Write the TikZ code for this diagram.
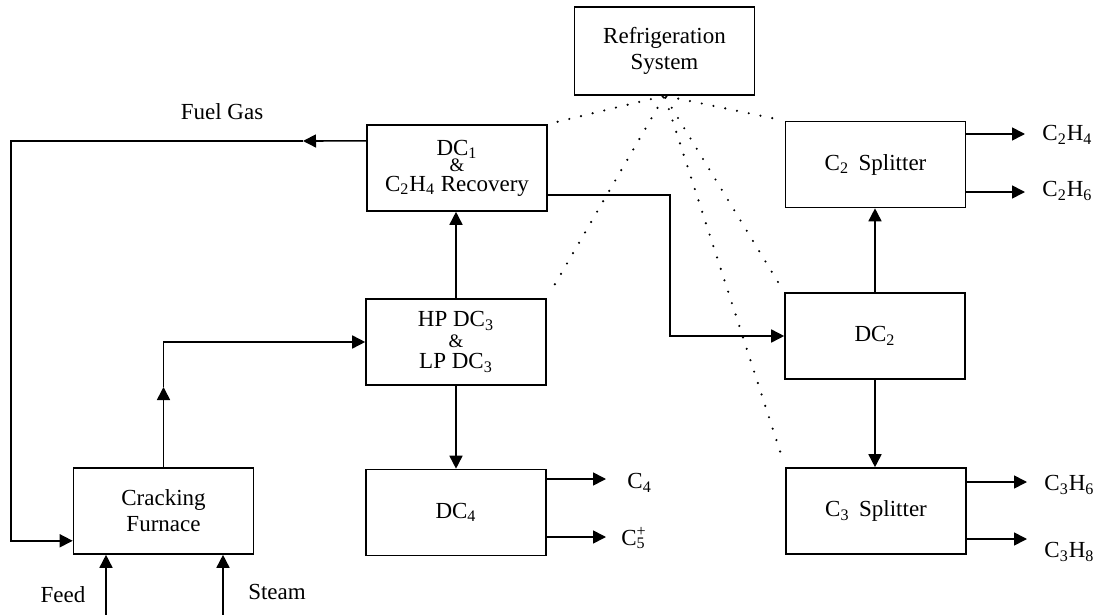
\documentclass[tikz,border=0pt]{standalone}
\usepackage{fontspec}
\setmainfont{Liberation Serif}
\usetikzlibrary{arrows.meta,calc}
\newcommand\dfont{\fontsize{11.5pt}{13pt}\selectfont}
\newcommand\amp{{\fontsize{9.5pt}{13pt}\selectfont\&}}
\begin{document}
\begin{tikzpicture}[x=0.5pt,y=-0.5pt,
  box/.style={draw,line width=0.8pt,minimum width=90pt,minimum height=43pt,inner sep=0pt,align=center,font=\dfont},
  lbl/.style={inner sep=0pt,font=\dfont},
  ln/.style={line width=0.8pt},
  arr/.style={line width=0.8pt,-{Triangle[length=6.5pt,width=6.5pt]}},
  dots/.style={line width=1.2pt,line cap=round,dash pattern=on 0pt off 6pt,shorten >=5pt,shorten <=1pt}]
\useasboundingbox (0,0) rectangle (1097,615);
% boxes
\node[box,minimum height=44pt] (refr) at (664.5,51) {Refrigeration\\System};
\node[box] (dc1) at (457,168) {DC\textsubscript{1}\\[-5pt]\amp\\[-3pt]C\textsubscript{2}H\textsubscript{4} Recovery};
\node[box] (c2s) at (875.5,164.5) {C\textsubscript{2}\,\ Splitter};
\node[box] (hp) at (456,342) {HP DC\textsubscript{3}\\[-2.5pt]\amp\\[-2.5pt]LP DC\textsubscript{3}};
\node[box] (dc2) at (875,336) {DC\textsubscript{2}};
\node[box] (furn) at (163.5,511) {Cracking\\Furnace};
\node[box] (dc4) at (456,512.5) {DC\textsubscript{4}};
\node[box] (c3s) at (876,511) {C\textsubscript{3}\,\ Splitter};
% labels
\node[lbl] (fuel) at (222,112) {Fuel Gas};
\node[lbl] (feed) at (63,595) {Feed};
\node[lbl] (steam) at (277,592) {Steam};
\node[lbl,anchor=west] (lc2h4) at (1042,135) {C\textsubscript{2}H\textsubscript{4}};
\node[lbl,anchor=west] (lc2h6) at (1042,191) {C\textsubscript{2}H\textsubscript{6}};
\node[lbl,anchor=west] (lc4) at (627,483) {C\textsubscript{4}};
\node[lbl,anchor=west] (lc5) at (621,538) {C\rlap{\textsubscript{5}}\textsuperscript{+}};
\node[lbl,anchor=west] (lc3h6) at (1044,485) {C\textsubscript{3}H\textsubscript{6}};
\node[lbl,anchor=west] (lc3h8) at (1044,552) {C\textsubscript{3}H\textsubscript{8}};
% coordinates
\coordinate (fg) at ($(dc1.north west)!0.19!(dc1.south west)$);
\coordinate (fgm) at (303,141);
\coordinate (lpx) at (11,0);
\coordinate (fin) at ($(furn.north west)!0.84!(furn.south west)$);
\coordinate (d1e) at ($(dc1.north east)!0.81!(dc1.south east)$);
\coordinate (bx) at (670,0);
\coordinate (fm) at (163.5,387);
\coordinate (e1) at (1025,134);
\coordinate (e2) at (1025,192);
\coordinate (e3) at (606,479);
\coordinate (e4) at (606,537);
\coordinate (e5) at (1027,482);
\coordinate (e6) at (1027,539);
\coordinate (fb) at (106,615);
\coordinate (sb) at (223,615);
% fuel gas recycle
\draw[arr] (fg) -- (fgm);
\draw[arr] (fgm) -- (fgm -| lpx) |- (fin);
% main flows
\draw[arr] (furn.north) -- (furn.north |- fm);
\draw[arr] (furn.north |- fm) |- (hp.west);
\draw[arr] (hp.north) -- (hp.north |- dc1.south);
\draw[arr] (hp.south) -- (hp.south |- dc4.north);
\draw[arr] (d1e) -- (d1e -| bx) |- (dc2.west);
\draw[arr] (dc2.north) -- (dc2.north |- c2s.south);
\draw[arr] (dc2.south) -- (dc2.south |- c3s.north);
\draw[arr] (fb) -- (fb |- furn.south);
\draw[arr] (sb) -- (sb |- furn.south);
% products
\draw[arr] (c2s.east |- e1) -- (e1);
\draw[arr] (c2s.east |- e2) -- (e2);
\draw[arr] (dc4.east |- e3) -- (e3);
\draw[arr] (dc4.east |- e4) -- (e4);
\draw[arr] (c3s.east |- e5) -- (e5);
\draw[arr] (c3s.east |- e6) -- (e6);
% refrigeration links
\draw[dots] (refr.south) -- (dc1.north east);
\draw[dots] (refr.south) -- (c2s.north west);
\draw[dots] (refr.south) -- (hp.north east);
\draw[dots] (refr.south) -- (dc2.north west);
\draw[dots] (refr.south) -- (c3s.north west);
\end{tikzpicture}
\end{document}
